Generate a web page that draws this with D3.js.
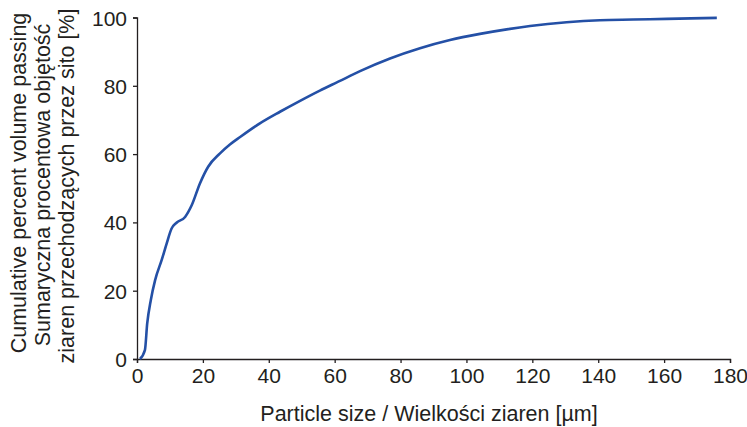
<!DOCTYPE html>
<html>
<head>
<meta charset="utf-8">
<script src="https://cdn.jsdelivr.net/npm/d3@7"></script>
<style>
  body { margin: 0; background: #fff; }
  text { font-family: "Liberation Sans", Arial, sans-serif; fill: #231f20; }
</style>
</head>
<body>
<svg id="svg_psd" width="747" height="427"></svg>
<script>
// particle size [um] and cumulative passing [%]
var sizes = [0.9, 2.4, 3.1, 4.2, 5.5, 7.5, 9, 10.5, 12, 14.6, 16.6, 19.1, 21.6, 25.2, 28.2, 31.3, 37.3, 43.4, 49.5, 55.5, 61.1, 67.7, 76.8, 85.9, 95, 104.1, 112.7, 119.3, 130.4, 140.5, 150.6, 160.8, 176];
var passing = [0, 2.6, 10.4, 17.3, 23.1, 29, 33.8, 38.2, 39.9, 41.6, 45, 51.4, 56.3, 60.2, 62.8, 65, 69, 72.4, 75.6, 78.6, 81.2, 84.3, 88.0, 91.0, 93.4, 95.2, 96.6, 97.5, 98.6, 99.2, 99.4, 99.6, 99.9];
var xTicks = [0, 20, 40, 60, 80, 100, 120, 140, 160, 180];
var yTicks = [0, 20, 40, 60, 80, 100];
var xTitle = "Particle size / Wielkości ziaren [µm]";
var yTitle = ["Cumulative percent volume passing", "Sumaryczna procentowa objętość", "ziaren przechodzących przez sito [%]"];

function drawChart() {
    var svg = d3.select("#svg_psd"),
        margin = {top: 17.5, right: 17, bottom: 68, left: 137},
        width = +svg.attr("width") - margin.left - margin.right,
        height = +svg.attr("height") - margin.top - margin.bottom,
        g = svg.append("g").attr("transform", "translate(" + margin.left + "," + margin.top + ")");

    var x = d3.scaleLinear().domain([0, 180]).range([0, width]);
    var y = d3.scaleLinear().domain([0, 100]).range([height, 0]);

    var xAxis = g.append("g")
        .attr("transform", "translate(0," + height + ")")
        .call(d3.axisBottom(x).tickValues(xTicks).tickSize(4).tickPadding(5));
    var yAxis = g.append("g")
        .call(d3.axisLeft(y).tickValues(yTicks).tickSize(4).tickPadding(6));

    [xAxis, yAxis].forEach(function(a) {
        a.selectAll("path, line").attr("stroke", "#231f20").attr("stroke-width", 1.3);
        a.selectAll("text").style("font-size", "21px").style("font-family", "Liberation Sans, Arial, sans-serif").attr("fill", "#231f20");
    });
    yAxis.selectAll("text").attr("dy", "0.36em");

    var data = sizes.map(function(s, i) { return {x: s, y: passing[i]}; });

    var line = d3.line()
        .curve(d3.curveMonotoneX)
        .x(function(d) { return x(d.x); })
        .y(function(d) { return y(d.y); });

    g.append("path")
        .datum(data)
        .attr("fill", "none")
        .attr("stroke", "#2450a6")
        .attr("stroke-width", 2.6)
        .attr("d", line);

    svg.append("text")
        .attr("x", 429)
        .attr("y", 421)
        .attr("text-anchor", "middle")
        .style("font-size", "21.5px")
        .text(xTitle);

    var centers = [183, 185, 186];
    yTitle.forEach(function(t, i) {
        svg.append("text")
            .attr("transform", "translate(" + (25.5 + i * 24) + "," + centers[i] + ") rotate(-90)")
            .attr("text-anchor", "middle")
            .style("font-size", "21.5px")
            .text(t);
    });
}
drawChart();
</script>
</body>
</html>
